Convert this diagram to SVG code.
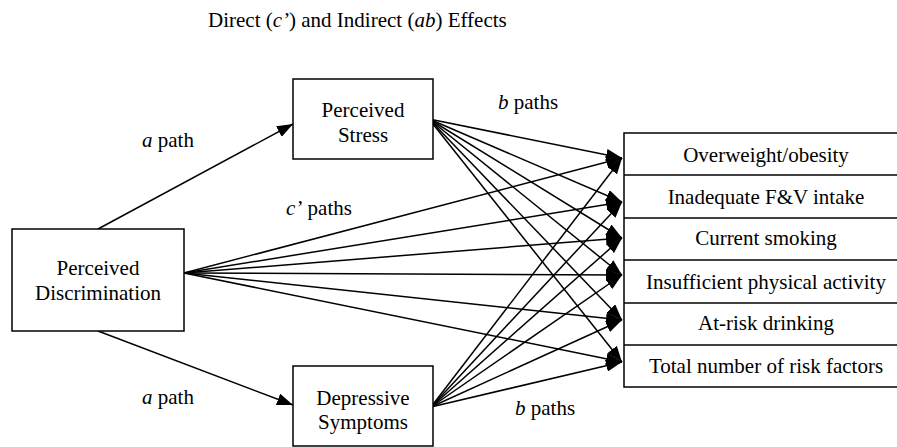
<svg xmlns="http://www.w3.org/2000/svg" width="897" height="447" viewBox="0 0 897 447">
<style>
text{font-family:"Liberation Serif","Times New Roman",serif;font-size:21px;fill:#000}
.t{font-size:21px}
.c{text-anchor:middle}
.box{fill:#fff;stroke:#000;stroke-width:1.5}
.ln{stroke:#000;stroke-width:1.5;fill:none;marker-end:url(#ah)}
.div{stroke:#000;stroke-width:1.5}
</style>
<defs>
<marker id="ah" viewBox="0 0 16 12" refX="16" refY="6" markerWidth="16" markerHeight="12" markerUnits="userSpaceOnUse" orient="auto">
<path d="M0,0 L16,6 L0,12 Z" fill="#000"/>
</marker>
</defs>
<rect width="897" height="447" fill="#fff"/>
<text class="t" x="208" y="27">Direct (<tspan font-style="italic">c’</tspan>) and Indirect (<tspan font-style="italic">ab</tspan>) Effects</text>

<g id="connectors">
<line class="ln" x1="98" y1="229" x2="293" y2="124"/>
<line class="ln" x1="98" y1="331" x2="293" y2="405"/>
<line class="ln" x1="184" y1="273" x2="622" y2="158"/>
<line class="ln" x1="184" y1="273" x2="622" y2="202"/>
<line class="ln" x1="184" y1="273" x2="622" y2="238"/>
<line class="ln" x1="184" y1="273" x2="622" y2="275"/>
<line class="ln" x1="184" y1="273" x2="622" y2="320"/>
<line class="ln" x1="184" y1="273" x2="622" y2="362"/>
<line class="ln" x1="429" y1="119" x2="622" y2="158"/>
<line class="ln" x1="429" y1="119" x2="622" y2="202"/>
<line class="ln" x1="429" y1="119" x2="622" y2="238"/>
<line class="ln" x1="429" y1="119" x2="622" y2="275"/>
<line class="ln" x1="429" y1="119" x2="622" y2="320"/>
<line class="ln" x1="429" y1="119" x2="622" y2="362"/>
<line class="ln" x1="431" y1="407" x2="622" y2="158"/>
<line class="ln" x1="431" y1="407" x2="622" y2="202"/>
<line class="ln" x1="431" y1="407" x2="622" y2="238"/>
<line class="ln" x1="431" y1="407" x2="622" y2="275"/>
<line class="ln" x1="431" y1="407" x2="622" y2="320"/>
<line class="ln" x1="431" y1="407" x2="622" y2="362"/>
<text x="142" y="147"><tspan font-style="italic">a</tspan> path</text>
<text x="142" y="404"><tspan font-style="italic">a</tspan> path</text>
<text x="498" y="109"><tspan font-style="italic">b</tspan> paths</text>
<text x="515" y="415"><tspan font-style="italic">b</tspan> paths</text>
<text x="286" y="215"><tspan font-style="italic">c’</tspan> paths</text>
</g>

<g id="perceived-discrimination">
<rect class="box" x="12" y="229" width="172" height="102"/>
<text class="c" x="98" y="275">Perceived</text>
<text class="c" x="98" y="300">Discrimination</text>
</g>
<g id="perceived-stress">
<rect class="box" x="293" y="79" width="140" height="80"/>
<text class="c" x="363" y="117">Perceived</text>
<text class="c" x="363" y="142">Stress</text>
</g>
<g id="depressive-symptoms">
<rect class="box" x="293" y="366" width="140" height="80"/>
<text class="c" x="363" y="405">Depressive</text>
<text class="c" x="363" y="429">Symptoms</text>
</g>
<g id="outcomes">
<rect class="box" x="624" y="133" width="280" height="254"/>
<line class="div" x1="624" y1="175" x2="897" y2="175"/>
<line class="div" x1="624" y1="218" x2="897" y2="218"/>
<line class="div" x1="624" y1="260" x2="897" y2="260"/>
<line class="div" x1="624" y1="303" x2="897" y2="303"/>
<line class="div" x1="624" y1="345" x2="897" y2="345"/>
<text class="c" x="766" y="162">Overweight/obesity</text>
<text class="c" x="766" y="204">Inadequate F&amp;V intake</text>
<text class="c" x="766" y="245">Current smoking</text>
<text class="c" x="766" y="289">Insufficient physical activity</text>
<text class="c" x="766" y="330">At-risk drinking</text>
<text class="c" x="766" y="373">Total number of risk factors</text>
</g>
</svg>
